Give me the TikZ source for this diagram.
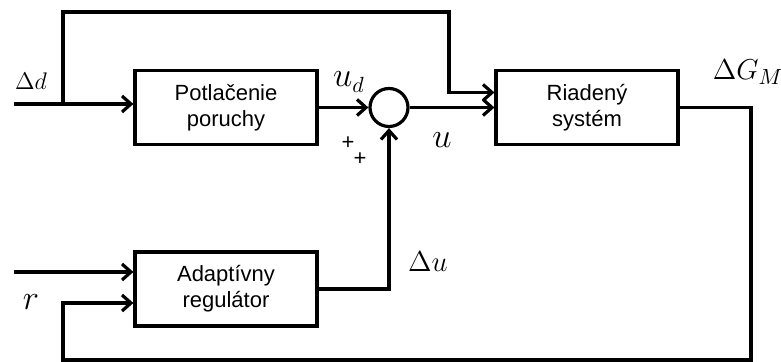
\documentclass[tikz,border=0pt]{standalone}
\usepackage{fontspec}
\setmainfont{Liberation Sans}
\usetikzlibrary{arrows.meta}
\tikzset{
  >={Straight Barb[length=4.5pt,width=8pt]},
  flow/.style={->, line width=1.6pt, draw=black},
  box/.style={
    draw=black,
    line width=1.6pt,
    minimum width=91pt,
    minimum height=37pt,
    align=center,
    inner sep=2pt,
    font=\fontsize{11}{13}\selectfont
  },
  sumnode/.style={draw=black, circle, line width=1.6pt, minimum size=19pt, inner sep=0pt},
  siglabel/.style={inner sep=0pt}
}
\begin{document}
\begin{tikzpicture}[x=0.5pt,y=-0.5pt]
  \useasboundingbox (0,0) rectangle (781,362);
  \node[box] (potl) at (226,107.5) {Potlačenie\\poruchy};
  \node[sumnode] (sum) at (389,107.5) {};
  \node[box] (riad) at (587,107.5) {Riadený\\systém};
  \node[box] (adapt) at (226,289) {Adaptívny\\regulátor};

  \coordinate (din) at (14,104);
  \coordinate (split) at (63,104);
  \coordinate (tap) at (449,12);
  \coordinate (rin) at (14,272);
  \coordinate (fbr) at (751,360);
  \coordinate (fbl) at (63,360);

  \draw[flow] (din) -- (potl.west |- din);
  \draw[flow] (split) |- (tap) |- ([yshift=7.5pt]riad.west);
  \draw[flow] (potl.east) -- (sum.west);
  \draw[flow] (sum.east) -- (riad.west);
  \draw[flow] (riad.east) -| (fbr) -- (fbl) |- ([yshift=-7pt]adapt.west);
  \draw[flow] (rin) -- (adapt.west |- rin);
  \draw[flow] (adapt.east) -| (sum.south);

  \node[siglabel,font=\fontsize{13}{15}\selectfont] (dlab) at (31,81) {$\Delta d$};
  \node[siglabel,font=\fontsize{16}{18}\selectfont] (udlab) at (349,82) {$u_d$};
  \node[siglabel,font=\fontsize{11}{12}\selectfont] (plus1) at (348,143) {+};
  \node[siglabel,font=\fontsize{11}{12}\selectfont] (plus2) at (360,159) {+};
  \node[siglabel,font=\fontsize{17}{19}\selectfont] (ulab) at (442,140) {$u$};
  \node[siglabel,font=\fontsize{15}{17}\selectfont] (glab) at (748,72) {$\Delta G_M$};
  \node[siglabel,font=\fontsize{15}{17}\selectfont] (dulab) at (428,262) {$\Delta u$};
  \node[siglabel,font=\fontsize{17}{19}\selectfont] (rlab) at (31,302) {$r$};
\end{tikzpicture}
\end{document}
